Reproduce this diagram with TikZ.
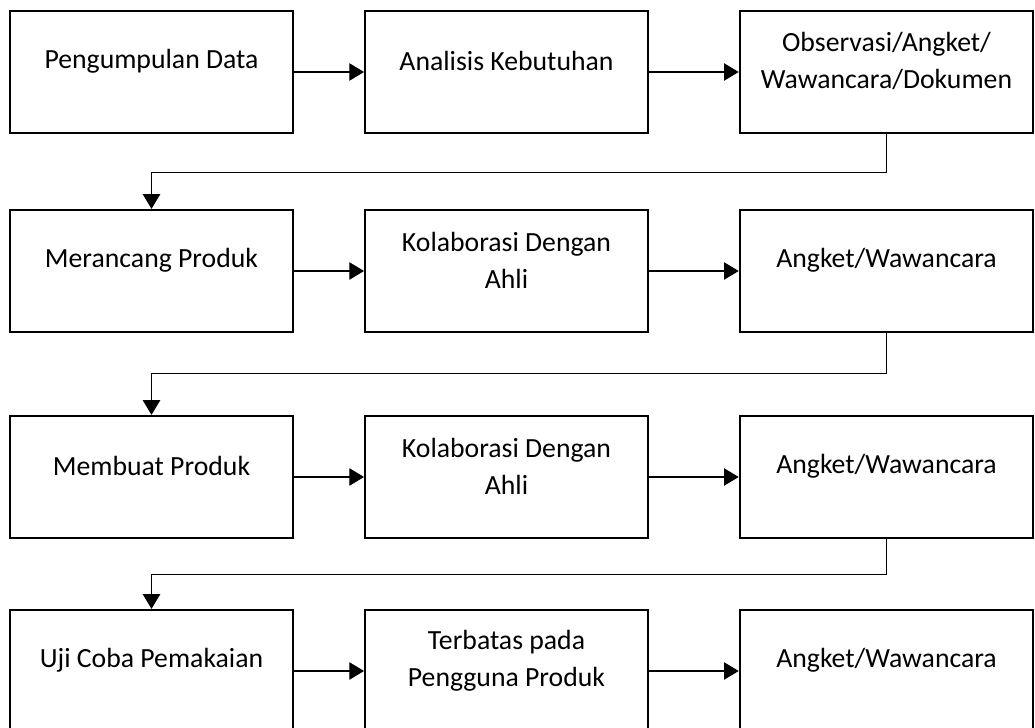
\documentclass[tikz,border=0pt]{standalone}
\usepackage{fontspec}
\setmainfont{Carlito}
\usetikzlibrary{arrows.meta}

\begin{document}
\begin{tikzpicture}[x=0.75pt,y=-0.75pt,
  box/.style={draw,line width=1.7pt,minimum width=212pt,minimum height=91.5pt,inner sep=0pt},
  wide/.style={box,minimum width=220pt},
  txt/.style={align=center,font=\fontsize{20.8}{27.75}\selectfont,yshift=8pt},
  arr/.style={-{Triangle[length=11pt,width=13pt]},line width=0.9pt}]
  \useasboundingbox (0,0) rectangle (1035,728);
  % tahap 1
  \node[box] (pengumpulan) at (151.5,72) {};
  \node[box] (analisis) at (506.5,72) {};
  \node[wide] (observasi) at (886.5,72) {};
  \node[txt] (pengumpulan-t) at (pengumpulan) {Pengumpulan Data};
  \node[txt] (analisis-t) at (analisis) {Analisis Kebutuhan};
  \node[txt] (observasi-t) at (observasi) {Observasi/Angket/\\Wawancara/Dokumen};
  % tahap 2
  \node[box] (merancang) at (151.5,271) {};
  \node[box] (kolab1) at (506.5,271) {};
  \node[wide] (angket1) at (886.5,271) {};
  \node[txt] (merancang-t) at (merancang) {Merancang Produk};
  \node[txt] (kolab1-t) at (kolab1) {Kolaborasi Dengan\\Ahli};
  \node[txt] (angket1-t) at (angket1) {Angket/Wawancara};
  % tahap 3
  \node[box] (membuat) at (151.5,477) {};
  \node[box] (kolab2) at (506.5,477) {};
  \node[wide] (angket2) at (886.5,477) {};
  \node[txt] (membuat-t) at (membuat) {Membuat Produk};
  \node[txt] (kolab2-t) at (kolab2) {Kolaborasi Dengan\\Ahli};
  \node[txt] (angket2-t) at (angket2) {Angket/Wawancara};
  % tahap 4
  \node[box] (ujicoba) at (151.5,671) {};
  \node[box] (terbatas) at (506.5,671) {};
  \node[wide] (angket3) at (886.5,671) {};
  \node[txt] (ujicoba-t) at (ujicoba) {Uji Coba Pemakaian};
  \node[txt] (terbatas-t) at (terbatas) {Terbatas pada\\Pengguna Produk};
  \node[txt] (angket3-t) at (angket3) {Angket/Wawancara};
  % panah
  \draw[arr] (pengumpulan.east) -- (analisis.west);
  \draw[arr] (analisis.east) -- (observasi.west);
  \draw[arr] (observasi.south) -- ++(0,38) -| (merancang.north);
  \draw[arr] (merancang.east) -- (kolab1.west);
  \draw[arr] (kolab1.east) -- (angket1.west);
  \draw[arr] (angket1.south) -- ++(0,40) -| (membuat.north);
  \draw[arr] (membuat.east) -- (kolab2.west);
  \draw[arr] (kolab2.east) -- (angket2.west);
  \draw[arr] (angket2.south) -- ++(0,35) -| (ujicoba.north);
  \draw[arr] (ujicoba.east) -- (terbatas.west);
  \draw[arr] (terbatas.east) -- (angket3.west);
\end{tikzpicture}
\end{document}
